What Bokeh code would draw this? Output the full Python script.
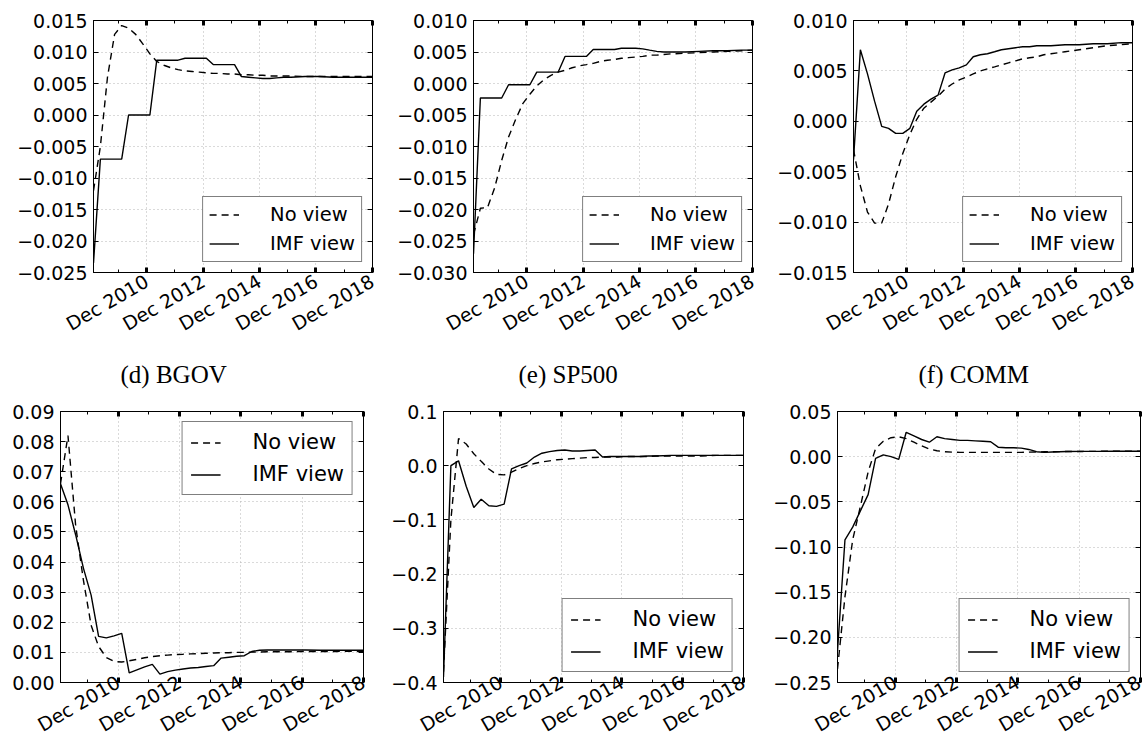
import math
import pandas as pd
from bokeh.plotting import figure
from bokeh.models import (Range1d, FixedTicker, CustomJSTickFormatter,
                          DatetimeAxis, LinearAxis, Title)
from bokeh.layouts import column, row
from bokeh.embed import file_html
from bokeh.resources import INLINE

# ---------------- data ----------------
dates = ["2009-01-31", "2009-04-30", "2009-07-31", "2009-10-31",
         "2010-01-31", "2010-04-30", "2010-07-31", "2010-10-31",
         "2011-01-31", "2011-04-30", "2011-07-31", "2011-10-31",
         "2012-01-31", "2012-04-30", "2012-07-31", "2012-10-31",
         "2013-01-31", "2013-04-30", "2013-07-31", "2013-10-31",
         "2014-01-31", "2014-04-30", "2014-07-31", "2014-10-31",
         "2015-01-31", "2015-04-30", "2015-07-31", "2015-10-31",
         "2016-01-31", "2016-07-31", "2017-01-31", "2017-07-31",
         "2018-01-31", "2018-07-31", "2018-12-20"]

x_major_dates = ["2010-12-20", "2012-12-20", "2014-12-20", "2016-12-20", "2018-12-20"]
x_minor_dates = ["2009-12-20", "2010-12-20", "2011-12-20", "2012-12-20", "2013-12-20",
                 "2014-12-20", "2015-12-20", "2016-12-20", "2017-12-20", "2018-12-20"]
x_tick_labels = ["Dec 2010", "Dec 2012", "Dec 2014", "Dec 2016", "Dec 2018"]
x_start, x_end = "2009-01-31", "2018-12-22"

series_names = ["No view", "IMF view"]

# top-left
a_no_view = [-0.012, -0.005, 0.006, 0.0128, 0.0142, 0.0138, 0.0128, 0.0113, 0.0097, 0.0085,
             0.0079, 0.0075, 0.0072, 0.0070, 0.0069, 0.0068, 0.0067, 0.0066, 0.0066, 0.0065,
             0.0065, 0.0064, 0.0064, 0.0063, 0.0063, 0.0062, 0.0062, 0.0062, 0.0062, 0.0061,
             0.0061, 0.0061, 0.0061, 0.0061, 0.0061]
a_imf_view = [-0.0235, -0.007, -0.007, -0.007, -0.007, 0.0, 0.0, 0.0, 0.0, 0.0087,
              0.0087, 0.0087, 0.0087, 0.009, 0.009, 0.009, 0.009, 0.008, 0.008, 0.008,
              0.008, 0.0061, 0.006, 0.0059, 0.0058, 0.0058, 0.0059, 0.006, 0.006, 0.0061,
              0.0061, 0.006, 0.006, 0.006, 0.006]
a_yticks = [-0.025, -0.020, -0.015, -0.010, -0.005, 0.000, 0.005, 0.010, 0.015]
a_ylabels = ["\u22120.025", "\u22120.020", "\u22120.015", "\u22120.010", "\u22120.005",
             "0.000", "0.005", "0.010", "0.015"]

# top-middle
b_no_view = [-0.024, -0.0198, -0.0197, -0.0166, -0.0122, -0.0085, -0.0057, -0.0032, -0.0017, -0.0004,
             0.0006, 0.0013, 0.0018, 0.0021, 0.0025, 0.0028, 0.0030, 0.0032, 0.0035, 0.0037,
             0.0038, 0.0040, 0.0041, 0.0042, 0.0043, 0.0045, 0.0045, 0.0046, 0.0047, 0.0048,
             0.0049, 0.0050, 0.0051, 0.0052, 0.0053]
b_imf_view = [-0.027, -0.0023, -0.0023, -0.0023, -0.0023, -0.0002, -0.0002, -0.0002, -0.0002, 0.0018,
              0.0018, 0.0018, 0.0018, 0.0043, 0.0043, 0.0043, 0.0043, 0.0054, 0.0054, 0.0054,
              0.0054, 0.0056, 0.0056, 0.0056, 0.0055, 0.0053, 0.0051, 0.0050, 0.0050, 0.0050,
              0.0051, 0.0052, 0.0052, 0.0053, 0.0053]
b_yticks = [-0.030, -0.025, -0.020, -0.015, -0.010, -0.005, 0.000, 0.005, 0.010]
b_ylabels = ["\u22120.030", "\u22120.025", "\u22120.020", "\u22120.015", "\u22120.010",
             "\u22120.005", "0.000", "0.005", "0.010"]

# top-right
c_no_view = [-0.0028, -0.0064, -0.0090, -0.0101, -0.0101, -0.0082, -0.0055, -0.0032, -0.0013, 0.0002,
             0.0013, 0.0019, 0.0025, 0.0032, 0.0037, 0.0041, 0.0044, 0.0047, 0.0050, 0.0052,
             0.0054, 0.0056, 0.0058, 0.0060, 0.0062, 0.0063, 0.0064, 0.0066, 0.0067, 0.0069,
             0.0071, 0.0073, 0.0075, 0.0076, 0.0077]
c_imf_view = [-0.0038, 0.0071, 0.0047, 0.0020, -0.0005, -0.0007, -0.0012, -0.0012, -0.0007, 0.0010,
              0.0017, 0.0022, 0.0026, 0.0048, 0.0051, 0.0053, 0.0056, 0.0064, 0.0066, 0.0067,
              0.0069, 0.0071, 0.0072, 0.0073, 0.0074, 0.0074, 0.0075, 0.0075, 0.0075, 0.0076,
              0.0076, 0.0077, 0.0077, 0.0078, 0.0078]
c_yticks = [-0.015, -0.010, -0.005, 0.000, 0.005, 0.010]
c_ylabels = ["\u22120.015", "\u22120.010", "\u22120.005", "0.000", "0.005", "0.010"]

# bottom-left
d_no_view = [0.066, 0.082, 0.052, 0.034, 0.019, 0.012, 0.0083, 0.0070, 0.0068, 0.0072,
             0.0077, 0.0082, 0.0086, 0.0089, 0.0091, 0.0093, 0.0094, 0.0095, 0.0096, 0.0097,
             0.0098, 0.0099, 0.0099, 0.0100, 0.0100, 0.0101, 0.0101, 0.0102, 0.0102, 0.0102,
             0.0103, 0.0103, 0.0103, 0.0104, 0.0104]
d_imf_view = [0.066, 0.059, 0.049, 0.038, 0.029, 0.0153, 0.0148, 0.0155, 0.0163, 0.0032,
              0.0042, 0.0052, 0.0060, 0.0028, 0.0036, 0.0041, 0.0045, 0.0048, 0.0050, 0.0053,
              0.0056, 0.0081, 0.0084, 0.0087, 0.0089, 0.0103, 0.0107, 0.0108, 0.0108, 0.0108,
              0.0108, 0.0107, 0.0107, 0.0107, 0.0107]
d_yticks = [0.00, 0.01, 0.02, 0.03, 0.04, 0.05, 0.06, 0.07, 0.08, 0.09]
d_ylabels = ["0.00", "0.01", "0.02", "0.03", "0.04", "0.05", "0.06", "0.07", "0.08", "0.09"]

# bottom-middle
e_no_view = [-0.38, -0.10, 0.050, 0.040, 0.022, 0.008, -0.006, -0.016, -0.017, -0.012,
             -0.005, 0.000, 0.004, 0.007, 0.009, 0.011, 0.012, 0.013, 0.014, 0.015,
             0.015, 0.016, 0.016, 0.016, 0.017, 0.017, 0.017, 0.017, 0.018, 0.018,
             0.018, 0.018, 0.019, 0.019, 0.019]
e_imf_view = [-0.39, 0.000, 0.009, -0.038, -0.077, -0.062, -0.074, -0.075, -0.071, -0.006,
              0.000, 0.005, 0.016, 0.023, 0.026, 0.028, 0.029, 0.027, 0.027, 0.028,
              0.029, 0.016, 0.017, 0.017, 0.017, 0.017, 0.017, 0.018, 0.018, 0.019,
              0.019, 0.019, 0.019, 0.019, 0.019]
e_yticks = [-0.4, -0.3, -0.2, -0.1, 0.0, 0.1]
e_ylabels = ["\u22120.4", "\u22120.3", "\u22120.2", "\u22120.1", "0.0", "0.1"]

# bottom-right
f_no_view = [-0.235, -0.155, -0.092, -0.055, -0.017, 0.009, 0.017, 0.021, 0.022, 0.020,
             0.016, 0.012, 0.0085, 0.0065, 0.0055, 0.0050, 0.0048, 0.0048, 0.0048, 0.0048,
             0.0048, 0.0048, 0.0048, 0.0048, 0.0048, 0.0050, 0.0052, 0.0054, 0.0055, 0.0057,
             0.0058, 0.0059, 0.0060, 0.0060, 0.0060]
f_imf_view = [-0.215, -0.092, -0.078, -0.060, -0.042, -0.002, 0.002, 0.000, -0.003, 0.027,
              0.023, 0.019, 0.016, 0.022, 0.020, 0.019, 0.018, 0.018, 0.0175, 0.017,
              0.0165, 0.0105, 0.0098, 0.0098, 0.0095, 0.008, 0.0055, 0.0048, 0.0052, 0.0058,
              0.0059, 0.0059, 0.0060, 0.0060, 0.0060]
f_yticks = [-0.25, -0.20, -0.15, -0.10, -0.05, 0.00, 0.05]
f_ylabels = ["\u22120.25", "\u22120.20", "\u22120.15", "\u22120.10", "\u22120.05", "0.00", "0.05"]

captions = ["(d) BGOV", "(e) SP500", "(f) COMM"]

# ---------------- drawing ----------------
def ms(s):
    return pd.Timestamp(s).value / 1e6

x = [ms(d) for d in dates]
major_ms = [ms(d) for d in x_major_dates]
minor_ms = [ms(d) for d in x_minor_dates]

JS = """
let best = 0, bd = Infinity;
for (let i = 0; i < tks.length; i++) {
  const d = Math.abs(tks[i] - tick);
  if (d < bd) { bd = d; best = i; }
}
return labels[best];
"""

FONT = "DejaVu Sans"


def make_panel(no_view, imf_view, yticks, ylabels, legend_loc, caption,
               w, h, bl, br, bt, bb, tick_fs, x_standoff, leg_fs, leg_pad, leg_row,
               leg_spacing, leg_standoff, cap_offset=0):
    p = figure(width=w, height=h, x_axis_type="datetime",
               x_range=Range1d(ms(x_start), ms(x_end)),
               y_range=Range1d(yticks[0], yticks[-1]),
               output_backend="svg", toolbar_location=None,
               min_border_left=bl, min_border_right=br,
               min_border_top=bt, min_border_bottom=bb,
               background_fill_color="white", border_fill_color="white")
    p.title.visible = False
    p.outline_line_color = "black"
    p.outline_line_width = 1

    xt = FixedTicker(ticks=major_ms, minor_ticks=minor_ms)
    xf = CustomJSTickFormatter(args=dict(tks=major_ms, labels=x_tick_labels), code=JS)
    yt = FixedTicker(ticks=yticks, minor_ticks=[])
    yf = CustomJSTickFormatter(args=dict(tks=yticks, labels=ylabels), code=JS)

    ax = p.xaxis[0]
    ax.ticker = xt
    ax.formatter = xf
    ax.major_label_orientation = math.pi / 6
    ax.major_label_standoff = x_standoff
    ay = p.yaxis[0]
    ay.ticker = yt
    ay.formatter = yf
    ay.major_label_standoff = 6
    for a in (ax, ay):
        a.major_label_text_font = FONT
        a.major_label_text_font_size = tick_fs
        a.major_label_text_color = "black"
        a.axis_line_color = "black"
        a.major_tick_out = 0
        a.minor_tick_out = 0
        a.major_tick_line_color = "black"
        a.minor_tick_line_color = "black"
    ax.major_tick_in = 5
    ax.major_tick_line_width = 3
    ax.minor_tick_in = 3
    ax.minor_tick_line_width = 1
    ay.major_tick_in = 5
    ay.major_tick_line_width = 1
    ay.minor_tick_in = 0

    top = DatetimeAxis(ticker=xt, formatter=xf, major_label_text_font_size="1px",
                       major_label_text_color=None,
                       major_label_standoff=0, major_tick_in=5, major_tick_out=0,
                       major_tick_line_width=3, minor_tick_in=3, minor_tick_out=0,
                       axis_line_color="black")
    p.add_layout(top, "above")
    right = LinearAxis(ticker=yt, formatter=yf, major_label_text_font_size="1px",
                       major_label_text_color=None,
                       major_label_standoff=0, major_tick_in=5, major_tick_out=0,
                       minor_tick_in=0, minor_tick_out=0, axis_line_color="black")
    p.add_layout(right, "right")

    p.xgrid.ticker = xt
    p.ygrid.ticker = yt
    for g in (p.xgrid, p.ygrid):
        g.grid_line_color = "#b4b4b4"
        g.grid_line_dash = "1 3"
        g.grid_line_width = 1

    p.line(x, no_view, line_color="black", line_width=1.4, line_dash="7 5",
           legend_label=series_names[0])
    p.line(x, imf_view, line_color="black", line_width=1.4,
           legend_label=series_names[1])

    lg = p.legend[0]
    lg.location = legend_loc
    lg.border_line_color = "black"
    lg.border_line_width = 1
    lg.background_fill_color = "white"
    lg.background_fill_alpha = 1
    lg.label_text_font = FONT
    lg.label_text_font_size = leg_fs
    lg.label_text_color = "black"
    lg.glyph_width = 30
    lg.label_standoff = leg_standoff
    lg.padding = leg_pad
    lg.spacing = leg_spacing
    lg.label_height = leg_row
    lg.glyph_height = leg_row
    lg.margin = 10

    if caption:
        cap = Title(text=caption, text_font="Liberation Serif", text_font_size="25px",
                    text_font_style="normal", text_color="black", align="left",
                    offset=cap_offset, standoff=22)
        p.add_layout(cap, "below")
    return p


top_kw = dict(h=398, bt=20, bb=125, tick_fs="19px", x_standoff=7, leg_fs="19.5px",
              leg_pad=6, leg_row=21, leg_spacing=6, leg_standoff=31)
bot_kw = dict(h=350, bt=13, bb=65, tick_fs="19px", x_standoff=-2, leg_fs="21px",
              leg_pad=8, leg_row=23, leg_spacing=8, leg_standoff=32)

p1 = make_panel(a_no_view, a_imf_view, a_yticks, a_ylabels, "bottom_right", captions[0],
                w=380, bl=93, br=8, cap_offset=27, **top_kw)
p2 = make_panel(b_no_view, b_imf_view, b_yticks, b_ylabels, "bottom_right", captions[1],
                w=380, bl=93, br=8, cap_offset=45, **top_kw)
p3 = make_panel(c_no_view, c_imf_view, c_yticks, c_ylabels, "bottom_right", captions[2],
                w=384, bl=93, br=12, cap_offset=65, **top_kw)
p4 = make_panel(d_no_view, d_imf_view, d_yticks, d_ylabels, "top_right", None,
                w=380, bl=60, br=17, **bot_kw)
p5 = make_panel(e_no_view, e_imf_view, e_yticks, e_ylabels, "bottom_right", None,
                w=380, bl=63, br=17, **bot_kw)
p6 = make_panel(f_no_view, f_imf_view, f_yticks, f_ylabels, "bottom_right", None,
                w=384, bl=77, br=4, **bot_kw)

layout = column(row(p1, p2, p3), row(p4, p5, p6))
open("out.html", "w").write(file_html(layout, INLINE))
